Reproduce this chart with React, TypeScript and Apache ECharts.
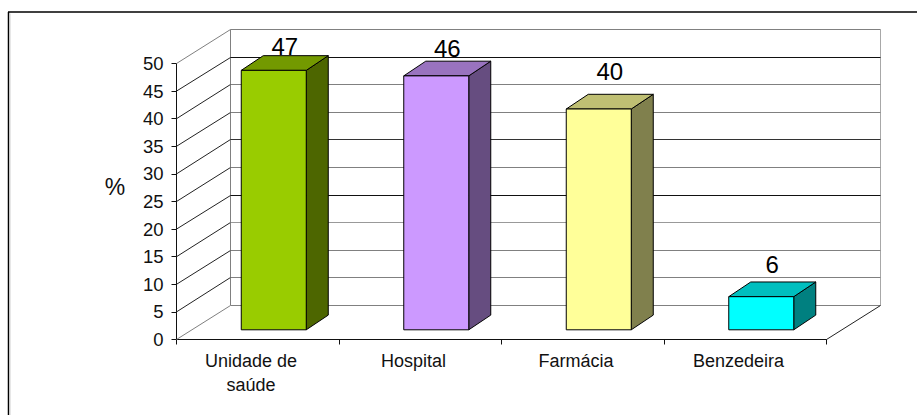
import React, { useEffect, useRef } from "react";
import * as echarts from "echarts";

const categories = ["Unidade de\nsaúde", "Hospital", "Farmácia", "Benzedeira"];
const values = [47, 46, 40, 6];
const frontColors = ["#99CC00", "#CC99FF", "#FFFF99", "#00FFFF"];
const topColors = ["#739900", "#9973BF", "#BFBF73", "#00BFBF"];
const sideColors = ["#4D6600", "#664D80", "#80804D", "#008080"];
const wallTicks = [0, 5, 10, 15, 20, 25, 30, 35, 40, 45, 50];
const wallLineColors = ["#808080", "#808080", "#808080", "#999999", "#111111", "#808080", "#333333", "#808080", "#808080", "#111111", "#808080"];
const sideLineColors = ["#808080", "#222222", "#222222", "#222222", "#222222", "#222222", "#222222", "#222222", "#222222", "#222222", "#808080"];

// Depth of the plot box and of each column, in pixels.
const WALL_DX = 54;
const WALL_DY = 34;
const BAR_DX = 22;
const BAR_DY = 14.7;
const BAR_OFFSET_X = 16;
const BAR_OFFSET_Y = 9.7;
const BAR_WIDTH = 65;
// Distance between the top of a column and the baseline of its value label.
const LABEL_LIFT = [0.5, 4, 14, 8.5];
const LABEL_DIGIT_HEIGHT = 17;

const FONT = '"Liberation Sans", Arial, sans-serif';

const App = () => {
  const ref = useRef<HTMLDivElement>(null);

  useEffect(() => {
    const chart = echarts.init(ref.current!, undefined, { renderer: "svg" });

    const renderWall = (params: any, api: any) => {
      const rect = params.coordSys;
      const tick = api.value(0);
      const y = api.coord([0, tick])[1];
      const backX = rect.x + WALL_DX;
      // Keep the wall lines on whole pixel rows so they stay one pixel thick.
      const backY = Math.floor(y - WALL_DY) + 0.5;
      const right = rect.x + rect.width + WALL_DX;
      const children: any[] = [
        {
          type: "line",
          shape: { x1: rect.x, y1: y, x2: backX, y2: backY },
          style: { stroke: sideLineColors[params.dataIndex], lineWidth: 1 },
        },
        {
          type: "line",
          shape: { x1: backX, y1: backY, x2: right, y2: backY },
          style: { stroke: wallLineColors[params.dataIndex], lineWidth: 1 },
        },
      ];
      if (params.dataIndex === 0) {
        // Back wall edges and the right-hand floor edge.
        const top = Math.floor(api.coord([0, wallTicks[wallTicks.length - 1]])[1] - WALL_DY) + 0.5;
        children.push(
          { type: "line", shape: { x1: backX, y1: top, x2: backX, y2: backY }, style: { stroke: "#808080", lineWidth: 1 } },
          { type: "line", shape: { x1: right, y1: top, x2: right, y2: backY }, style: { stroke: "#A8A8A8", lineWidth: 1 } },
          { type: "line", shape: { x1: rect.x + rect.width, y1: y, x2: right, y2: backY }, style: { stroke: "#222222", lineWidth: 1 } },
        );
      }
      return { type: "group", children };
    };

    const renderBar = (params: any, api: any) => {
      const i = params.dataIndex;
      const category = api.value(0);
      const value = api.value(1);
      const topPt = api.coord([category, value]);
      const basePt = api.coord([category, 0]);
      const x0 = topPt[0] + BAR_OFFSET_X - BAR_WIDTH / 2;
      const x1 = x0 + BAR_WIDTH;
      const yTop = topPt[1] - BAR_OFFSET_Y;
      const yBase = basePt[1] - BAR_OFFSET_Y;
      const edge = { stroke: "#000000", lineWidth: 1, lineJoin: "round" };
      return {
        type: "group",
        children: [
          {
            type: "text",
            style: {
              text: String(values[i]),
              x: (x0 + x1 + BAR_DX) / 2,
              y: yTop - BAR_DY - LABEL_LIFT[i] - LABEL_DIGIT_HEIGHT / 2,
              align: "center",
              verticalAlign: "middle",
              font: `24px ${FONT}`,
              fill: "#000000",
            },
          },
          {
            type: "polygon",
            shape: { points: [[x1, yTop], [x1 + BAR_DX, yTop - BAR_DY], [x1 + BAR_DX, yBase - BAR_DY], [x1, yBase]] },
            style: { fill: sideColors[i], ...edge },
          },
          {
            type: "polygon",
            shape: { points: [[x0, yTop], [x0 + BAR_DX, yTop - BAR_DY], [x1 + BAR_DX, yTop - BAR_DY], [x1, yTop]] },
            style: { fill: topColors[i], ...edge },
          },
          {
            type: "polygon",
            shape: { points: [[x0, yTop], [x1, yTop], [x1, yBase], [x0, yBase]] },
            style: { fill: frontColors[i], ...edge },
          },
        ],
      };
    };

    chart.setOption({
      animation: false,
      backgroundColor: "#ffffff",
      textStyle: { fontFamily: FONT },
      graphic: [
        { type: "line", shape: { x1: 8.5, y1: 12, x2: 8.5, y2: 415 }, style: { stroke: "#000000", lineWidth: 1.5 }, z: 10 },
        { type: "line", shape: { x1: 8, y1: 12, x2: 917, y2: 12 }, style: { stroke: "#000000", lineWidth: 1.5 }, z: 10 },
        { type: "line", shape: { x1: 10, y1: 13.5, x2: 10, y2: 415 }, style: { stroke: "#D0D0D0", lineWidth: 1 }, z: 10 },
        {
          type: "text",
          x: 115,
          y: 187,
          style: { text: "%", font: `23px ${FONT}`, fill: "#111111", align: "center", verticalAlign: "middle" },
          z: 10,
        },
      ],
      grid: { left: 176.5, top: 63.5, width: 650, height: 276, containLabel: false },
      xAxis: {
        type: "category",
        data: categories,
        axisLine: { lineStyle: { color: "#111111", width: 1 } },
        axisTick: { show: true, length: 5, alignWithLabel: false, lineStyle: { color: "#111111" } },
        axisLabel: { color: "#111111", fontSize: 18, lineHeight: 24, margin: 9, padding: [0, 13.5, 0, 0], interval: 0 },
      },
      yAxis: {
        type: "value",
        min: 0,
        max: 50,
        interval: 5,
        axisLine: { show: true, lineStyle: { color: "#111111", width: 1 } },
        axisTick: { show: true, length: 5, lineStyle: { color: "#111111" } },
        axisLabel: { color: "#111111", fontSize: 18.5, margin: 13 },
        splitLine: { show: false },
      },
      series: [
        {
          type: "custom",
          name: "wall",
          coordinateSystem: "cartesian2d",
          renderItem: renderWall,
          data: wallTicks.map((t) => [t]),
          encode: { y: 0 },
          silent: true,
          z: 1,
        },
        {
          type: "custom",
          name: "percent",
          coordinateSystem: "cartesian2d",
          renderItem: renderBar,
          data: values.map((v, i) => [i, v]),
          encode: { x: 0, y: 1 },
          z: 2,
        },
      ],
    });

    return () => chart.dispose();
  }, []);

  return <div ref={ref} style={{ position: "absolute", left: 0, top: 0, width: 917, height: 415 }} />;
};

export default App;
